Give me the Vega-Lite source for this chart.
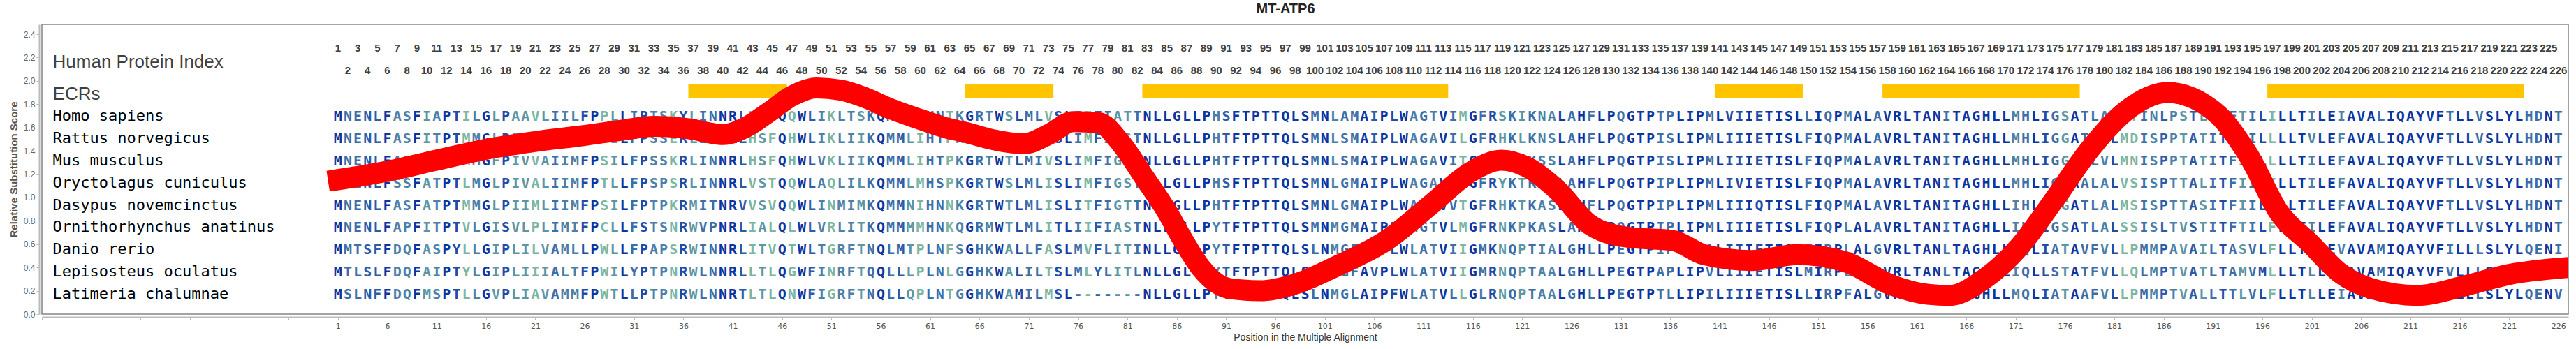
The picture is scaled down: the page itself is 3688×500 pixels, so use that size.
{
"$schema": "https://vega.github.io/schema/vega-lite/v6.json",
"width": 3617, "height": 415,
"autosize": {"type": "none"},
"padding": {"left": 60, "top": 35, "right": 11, "bottom": 50},
"background": "white",
"title": {"text": "MT-ATP6", "font": "Liberation Sans", "fontSize": 20, "fontWeight": "bold", "color": "#222222", "anchor": "middle", "offset": 12, "dx": -28},
"config": {"view": {"stroke": "#858585", "strokeWidth": 1.5}, "axis": {"grid": false}},
"datasets": {
"seqs": [
{"sp": "Homo sapiens", "aa": ["M","N","E","N","L","F","A","S","F","I","A","P","T","I","L","G","L","P","A","A","V","L","I","I","L","F","P","P","L","L","I","P","T","S","K","Y","L","I","N","N","R","L","I","T","T","Q","Q","W","L","I","K","L","T","S","K","Q","M","M","T","M","H","N","T","K","G","R","T","W","S","L","M","L","V","S","L","I","I","F","I","A","T","T","N","L","L","G","L","L","P","H","S","F","T","P","T","T","Q","L","S","M","N","L","A","M","A","I","P","L","W","A","G","T","V","I","M","G","F","R","S","K","I","K","N","A","L","A","H","F","L","P","Q","G","T","P","T","P","L","I","P","M","L","V","I","I","E","T","I","S","L","L","I","Q","P","M","A","L","A","V","R","L","T","A","N","I","T","A","G","H","L","L","M","H","L","I","G","S","A","T","L","A","M","S","T","I","N","L","P","S","T","L","I","I","F","T","I","L","I","L","L","T","I","L","E","I","A","V","A","L","I","Q","A","Y","V","F","T","L","L","V","S","L","Y","L","H","D","N","T"]},
{"sp": "Rattus norvegicus", "aa": ["M","N","E","N","L","F","A","S","F","I","T","P","T","M","M","G","L","P","I","V","V","T","I","I","M","F","P","S","I","L","F","P","S","S","E","R","L","I","S","N","R","L","H","S","F","Q","H","W","L","I","K","L","I","I","K","Q","M","M","L","I","H","T","P","K","G","R","T","W","A","L","M","I","V","S","L","I","M","F","I","G","S","T","N","L","L","G","L","L","P","H","T","F","T","P","T","T","Q","L","S","M","N","L","S","M","A","I","P","L","W","A","G","A","V","I","L","G","F","R","H","K","L","K","N","S","L","A","H","F","L","P","Q","G","T","P","I","S","L","I","P","M","L","I","I","I","E","T","I","S","L","F","I","Q","P","M","A","L","A","V","R","L","T","A","N","I","T","A","G","H","L","L","M","H","L","I","G","G","A","T","L","V","L","M","D","I","S","P","P","T","A","T","I","T","F","I","I","L","L","L","L","T","V","L","E","F","A","V","A","L","I","Q","A","Y","V","F","T","L","L","V","S","L","Y","L","H","D","N","T"]},
{"sp": "Mus musculus", "aa": ["M","N","E","N","L","F","A","S","F","I","T","P","T","M","M","G","F","P","I","V","V","A","I","I","M","F","P","S","I","L","F","P","S","S","K","R","L","I","N","N","R","L","H","S","F","Q","H","W","L","V","K","L","I","I","K","Q","M","M","L","I","H","T","P","K","G","R","T","W","T","L","M","I","V","S","L","I","M","F","I","G","S","T","N","L","L","G","L","L","P","H","T","F","T","P","T","T","Q","L","S","M","N","L","S","M","A","I","P","L","W","A","G","A","V","I","T","G","F","R","H","K","L","K","S","S","L","A","H","F","L","P","Q","G","T","P","I","S","L","I","P","M","L","I","I","I","E","T","I","S","L","F","I","Q","P","M","A","L","A","V","R","L","T","A","N","I","T","A","G","H","L","L","M","H","L","I","G","G","A","T","L","V","L","M","N","I","S","P","P","T","A","T","I","T","F","I","I","L","L","L","L","T","I","L","E","F","A","V","A","L","I","Q","A","Y","V","F","T","L","L","V","S","L","Y","L","H","D","N","T"]},
{"sp": "Oryctolagus cuniculus", "aa": ["M","N","E","N","L","F","S","S","F","A","T","P","T","L","M","G","L","P","I","V","A","L","I","I","M","F","P","T","L","L","F","P","S","P","S","R","L","I","N","N","R","L","V","S","T","Q","Q","W","L","A","Q","L","I","L","K","Q","M","M","L","M","H","S","P","K","G","R","T","W","S","L","M","L","I","S","L","I","M","F","I","G","S","T","N","L","L","G","L","L","P","H","S","F","T","P","T","T","Q","L","S","M","N","L","G","M","A","I","P","L","W","A","G","A","V","I","T","G","F","R","Y","K","T","K","A","S","L","A","H","F","L","P","Q","G","T","P","I","P","L","I","P","M","L","I","V","I","E","T","I","S","L","F","I","Q","P","M","A","L","A","V","R","L","T","A","N","I","T","A","G","H","L","L","M","H","L","I","G","G","A","A","L","A","L","V","S","I","S","P","T","T","A","L","I","T","F","I","I","L","I","L","L","T","I","L","E","F","A","V","A","L","I","Q","A","Y","V","F","T","L","L","V","S","L","Y","L","H","D","N","T"]},
{"sp": "Dasypus novemcinctus", "aa": ["M","N","E","N","L","F","A","S","F","A","T","P","T","M","M","G","L","P","I","I","M","L","I","I","M","F","P","S","I","L","F","P","T","P","K","R","M","I","T","N","R","V","V","S","V","Q","Q","W","L","I","N","M","I","M","K","Q","M","M","N","I","H","N","N","K","G","R","T","W","T","L","M","L","I","S","L","I","T","F","I","G","T","T","N","L","L","G","L","L","P","H","T","F","T","P","T","T","Q","L","S","M","N","L","G","M","A","I","P","L","W","A","G","A","V","V","T","G","F","R","H","K","T","K","A","S","L","A","H","F","L","P","Q","G","T","P","I","P","L","I","P","M","L","I","I","I","Q","T","I","S","L","F","I","Q","P","M","A","L","A","V","R","L","T","A","N","I","T","A","G","H","L","L","I","H","L","I","G","G","A","T","L","A","L","M","S","I","S","P","T","T","A","S","I","T","F","I","I","L","I","L","L","T","I","L","E","F","A","V","A","L","I","Q","A","Y","V","F","T","L","L","V","S","L","Y","L","H","D","N","T"]},
{"sp": "Ornithorhynchus anatinus", "aa": ["M","N","E","N","L","F","A","P","F","I","T","P","T","V","L","G","I","S","V","L","P","L","I","M","I","F","P","C","L","L","F","S","T","S","N","R","W","V","P","N","R","L","I","A","L","Q","L","W","L","V","R","L","I","T","K","Q","M","M","M","M","H","N","K","Q","G","R","M","W","T","L","M","L","I","T","L","I","I","F","I","A","S","T","N","L","L","G","L","L","P","Y","T","F","T","P","T","T","Q","L","S","M","N","M","G","M","A","I","P","L","W","M","G","T","V","L","M","G","F","R","N","K","P","K","A","S","L","A","H","F","L","P","Q","G","T","P","I","P","L","I","P","M","L","I","I","I","E","T","I","S","L","F","I","Q","P","L","A","L","A","V","R","L","T","A","N","I","T","A","G","H","L","L","I","H","L","I","G","S","A","T","L","A","L","S","S","I","S","L","T","V","S","T","I","T","F","T","I","L","F","L","L","T","I","L","E","F","A","V","A","L","I","Q","A","Y","V","F","T","L","L","V","S","L","Y","L","H","D","N","T"]},
{"sp": "Danio rerio", "aa": ["M","M","T","S","F","F","D","Q","F","A","S","P","Y","L","L","G","I","P","L","I","L","V","A","M","L","L","P","W","L","L","F","P","A","P","S","R","W","I","N","N","R","L","I","T","V","Q","T","W","L","T","G","R","F","T","N","Q","L","M","T","P","L","N","F","S","G","H","K","W","A","L","L","F","A","S","L","M","V","F","L","I","T","I","N","L","L","G","L","L","P","Y","T","F","T","P","T","T","Q","L","S","L","N","M","G","F","A","V","P","L","W","L","A","T","V","I","I","G","M","K","N","Q","P","T","I","A","L","G","H","L","L","P","E","G","T","P","I","P","L","I","P","A","L","I","I","I","E","T","I","S","L","F","I","R","P","L","A","L","G","V","R","L","T","A","N","L","T","A","G","H","L","L","I","Q","L","I","A","T","A","V","F","V","L","L","P","M","M","P","A","V","A","I","L","T","A","S","V","L","F","L","L","T","L","L","E","V","A","V","A","M","I","Q","A","Y","V","F","I","L","L","L","S","L","Y","L","Q","E","N","I"]},
{"sp": "Lepisosteus oculatus", "aa": ["M","T","L","S","L","F","D","Q","F","A","I","P","T","Y","L","G","I","P","L","I","I","I","A","L","T","F","P","W","I","L","Y","P","T","P","N","R","W","L","N","N","R","L","L","T","L","Q","G","W","F","I","N","R","F","T","Q","Q","L","L","L","P","L","N","L","G","G","H","K","W","A","L","I","L","T","S","L","M","L","Y","L","I","T","L","N","L","L","G","L","L","P","Y","T","F","T","P","T","T","Q","L","S","L","N","M","G","F","A","V","P","L","W","L","A","T","V","I","I","G","M","R","N","Q","P","T","A","A","L","G","H","L","L","P","E","G","T","P","A","P","L","I","P","V","L","I","I","I","E","T","I","S","L","M","I","R","P","L","A","L","G","V","R","L","T","A","N","L","T","A","G","H","L","L","I","Q","L","L","S","T","A","T","F","V","L","L","Q","L","M","P","T","V","A","T","L","T","A","M","V","M","L","L","L","T","L","L","E","V","A","V","A","M","I","Q","A","Y","V","F","V","L","L","L","S","L","Y","L","Q","E","N","V"]},
{"sp": "Latimeria chalumnae", "aa": ["M","S","L","N","F","F","D","Q","F","M","S","P","T","L","L","G","V","P","L","I","A","V","A","M","M","F","P","W","T","L","L","P","T","P","N","R","W","L","N","N","R","T","L","T","L","Q","N","W","F","I","G","R","F","T","N","Q","L","L","Q","P","L","N","T","G","G","H","K","W","A","M","I","L","M","S","L","-","-","-","-","-","-","-","N","L","L","G","L","L","P","Y","T","F","T","P","T","T","Q","L","S","L","N","M","G","L","A","I","P","F","W","L","A","T","V","L","L","G","L","R","N","Q","P","T","A","A","L","G","H","L","L","P","E","G","T","P","T","L","L","I","P","I","L","I","I","I","E","T","I","S","L","L","I","R","P","F","A","L","G","V","R","L","T","A","N","L","T","A","G","H","L","L","M","Q","L","I","A","T","A","A","F","V","L","L","P","M","M","P","T","V","A","L","L","T","T","L","V","L","F","L","L","T","L","L","E","I","A","V","A","M","I","Q","A","Y","V","F","V","L","L","L","S","L","Y","L","Q","E","N","V"]}
],
"ecrs": [{"start": 37, "end": 46}, {"start": 65, "end": 73}, {"start": 83, "end": 113}, {"start": 141, "end": 149}, {"start": 158, "end": 177}, {"start": 197, "end": 222}],
"curve": [
{"pos": 0, "score": 1.14}, {"pos": 3, "score": 1.18}, {"pos": 6.3, "score": 1.23}, {"pos": 11, "score": 1.32}, {"pos": 16.4, "score": 1.42}, {"pos": 21, "score": 1.48}, {"pos": 25.8, "score": 1.53}, {"pos": 30, "score": 1.58}, {"pos": 33, "score": 1.61}, {"pos": 36.5, "score": 1.59}, {"pos": 40, "score": 1.54}, {"pos": 42.5, "score": 1.61}, {"pos": 44.8, "score": 1.74}, {"pos": 47, "score": 1.87}, {"pos": 49.5, "score": 1.94}, {"pos": 52, "score": 1.92}, {"pos": 54.3, "score": 1.86}, {"pos": 57, "score": 1.76}, {"pos": 60, "score": 1.67}, {"pos": 62.5, "score": 1.6}, {"pos": 64.5, "score": 1.56}, {"pos": 67.7, "score": 1.49}, {"pos": 70.5, "score": 1.46}, {"pos": 73, "score": 1.54}, {"pos": 75.5, "score": 1.65}, {"pos": 78.1, "score": 1.64}, {"pos": 80.3, "score": 1.47}, {"pos": 82.8, "score": 1.16}, {"pos": 85, "score": 0.88}, {"pos": 86.6, "score": 0.64}, {"pos": 88.5, "score": 0.39}, {"pos": 91.3, "score": 0.22}, {"pos": 94.5, "score": 0.2}, {"pos": 97.7, "score": 0.25}, {"pos": 102.4, "score": 0.42}, {"pos": 107.2, "score": 0.63}, {"pos": 111.9, "score": 0.95}, {"pos": 115.8, "score": 1.22}, {"pos": 118.9, "score": 1.32}, {"pos": 121.5, "score": 1.26}, {"pos": 124.6, "score": 1.06}, {"pos": 127.8, "score": 0.77}, {"pos": 131.6, "score": 0.66}, {"pos": 136.3, "score": 0.63}, {"pos": 139.4, "score": 0.51}, {"pos": 144.2, "score": 0.46}, {"pos": 148.9, "score": 0.51}, {"pos": 153.7, "score": 0.45}, {"pos": 158.4, "score": 0.25}, {"pos": 162.1, "score": 0.17}, {"pos": 164.3, "score": 0.16}, {"pos": 167.8, "score": 0.3}, {"pos": 171.3, "score": 0.57}, {"pos": 174.9, "score": 0.98}, {"pos": 178.4, "score": 1.4}, {"pos": 182, "score": 1.73}, {"pos": 186.4, "score": 1.9}, {"pos": 191.5, "score": 1.71}, {"pos": 194.6, "score": 1.36}, {"pos": 197.7, "score": 0.87}, {"pos": 200.8, "score": 0.61}, {"pos": 203.9, "score": 0.35}, {"pos": 207, "score": 0.22}, {"pos": 211.7, "score": 0.16}, {"pos": 216.4, "score": 0.24}, {"pos": 221, "score": 0.34}, {"pos": 227, "score": 0.4}
]
},
"layer": [
{
"layer": [
{"data": {"name": "ecrs"}, "mark": {"type": "rect", "color": "#ffc400", "xOffset": -7, "x2Offset": 7},
 "encoding": {
  "x": {"field": "start", "type": "quantitative", "scale": {"domain": [-29, 227], "nice": false, "zero": false}},
  "x2": {"field": "end"},
  "y": {"datum": 1.975, "type": "quantitative", "scale": {"domain": [0, 2.484], "nice": false, "zero": true}, "axis": null},
  "y2": {"datum": 1.849}}},
{"data": {"values": [{"t": "Human Protein Index"}]}, "mark": {"type": "text", "align": "left", "baseline": "alphabetic", "font": "Liberation Sans", "fontSize": 26, "color": "#3f3f3f"},
 "encoding": {"x": {"datum": -27.9, "type": "quantitative"}, "y": {"datum": 2.113, "type": "quantitative", "axis": null}, "text": {"field": "t"}}},
{"data": {"values": [{"t": "ECRs"}]}, "mark": {"type": "text", "align": "left", "baseline": "alphabetic", "font": "Liberation Sans", "fontSize": 26, "color": "#3f3f3f"},
 "encoding": {"x": {"datum": -27.9, "type": "quantitative"}, "y": {"datum": 1.837, "type": "quantitative", "axis": null}, "text": {"field": "t"}}},
{"data": {"name": "seqs"},
 "transform": [{"filter": "datum.sp == 'Homo sapiens'"}, {"flatten": ["aa"]}, {"window": [{"op": "row_number", "as": "p"}], "groupby": ["sp"]}, {"filter": "datum.p % 2 == 1"}],
 "mark": {"type": "text", "align": "center", "baseline": "alphabetic", "font": "Liberation Sans", "fontSize": 15, "fontWeight": "bold", "color": "#404040"},
 "encoding": {"x": {"field": "p", "type": "quantitative"}, "y": {"datum": 2.25, "type": "quantitative", "axis": null}, "text": {"field": "p", "type": "quantitative"}}},
{"data": {"name": "seqs"},
 "transform": [{"filter": "datum.sp == 'Homo sapiens'"}, {"flatten": ["aa"]}, {"window": [{"op": "row_number", "as": "p"}], "groupby": ["sp"]}, {"filter": "datum.p % 2 == 0"}],
 "mark": {"type": "text", "align": "center", "baseline": "alphabetic", "font": "Liberation Sans", "fontSize": 15, "fontWeight": "bold", "color": "#404040"},
 "encoding": {"x": {"field": "p", "type": "quantitative"}, "y": {"datum": 2.059, "type": "quantitative", "axis": null}, "text": {"field": "p", "type": "quantitative"}}}
]
},
{
"data": {"name": "seqs"},
"layer": [
{"transform": [{"flatten": ["aa"]}, {"window": [{"op": "row_number", "as": "p"}], "groupby": ["sp"]}, {"joinaggregate": [{"op": "count", "as": "n"}], "groupby": ["p", "aa"]}, {"joinaggregate": [{"op": "max", "field": "n", "as": "m"}], "groupby": ["p"]}],
 "mark": {"type": "text", "align": "center", "baseline": "alphabetic", "font": "DejaVu Sans Mono", "fontSize": 20, "fontWeight": "bold"},
 "encoding": {
  "x": {"field": "p", "type": "quantitative"},
  "y": {"field": "sp", "type": "nominal", "scale": {"type": "point", "domain": ["Homo sapiens", "Rattus norvegicus", "Mus musculus", "Oryctolagus cuniculus", "Dasypus novemcinctus", "Ornithorhynchus anatinus", "Danio rerio", "Lepisosteus oculatus", "Latimeria chalumnae"], "range": [138, 393], "padding": 0}, "axis": null},
  "color": {"field": "m", "type": "quantitative", "scale": {"type": "linear", "domain": [2, 3, 4, 5, 6, 7, 8, 9], "range": ["#8fc6a0", "#7cb6a2", "#5c96a5", "#4c80a8", "#3d6ea8", "#2c5ba8", "#1f4ca6", "#0b36a1"]}, "legend": null},
  "text": {"field": "aa"}}},
{"mark": {"type": "text", "align": "left", "baseline": "alphabetic", "font": "DejaVu Sans Mono", "fontSize": 22, "color": "#000000"},
 "encoding": {
  "x": {"datum": -27.9, "type": "quantitative"},
  "y": {"field": "sp", "type": "nominal", "scale": {"type": "point", "domain": ["Homo sapiens", "Rattus norvegicus", "Mus musculus", "Oryctolagus cuniculus", "Dasypus novemcinctus", "Ornithorhynchus anatinus", "Danio rerio", "Lepisosteus oculatus", "Latimeria chalumnae"], "range": [138, 393], "padding": 0}, "axis": null},
  "text": {"field": "sp"}}}
]
},
{"data": {"name": "curve"},
 "mark": {"type": "line", "color": "#ff0000", "strokeWidth": 30, "interpolate": "monotone", "strokeCap": "butt", "clip": true},
 "encoding": {
  "x": {"field": "pos", "type": "quantitative", "scale": {"domain": [-29, 227], "nice": false, "zero": false},
   "axis": {"values": [-29,-24,-19,-14,-9,-4,1,6,11,16,21,26,31,36,41,46,51,56,61,66,71,76,81,86,91,96,101,106,111,116,121,126,131,136,141,146,151,156,161,166,171,176,181,186,191,196,201,206,211,216,221,226],
    "labelExpr": "datum.value >= 1 ? datum.label : ''", "title": "Position in the Multiple Alignment", "titleFont": "Liberation Sans", "titleFontSize": 14, "titleFontWeight": "normal", "titleColor": "#333333", "titlePadding": 4,
    "labelFont": "DejaVu Sans", "labelFontSize": 11, "labelColor": "#555555", "labelPadding": 3, "labelFlush": false, "labelOverlap": false,
    "tickColor": "#bbbbbb", "tickSize": 4, "domainColor": "#bbbbbb", "domainWidth": 2, "offset": 4, "grid": false}},
  "y": {"field": "score", "type": "quantitative", "scale": {"domain": [0, 2.484], "nice": false, "zero": true},
   "axis": {"values": [0, 0.2, 0.4, 0.6, 0.8, 1.0, 1.2, 1.4, 1.6, 1.8, 2.0, 2.2, 2.4], "format": ".1f", "title": "Relative Substitution Score", "titleFont": "Liberation Sans", "titleFontSize": 15, "titleFontWeight": "bold", "titleColor": "#555555", "titlePadding": 6,
    "labelFont": "Liberation Sans", "labelFontSize": 12, "labelColor": "#666666", "labelPadding": 2, "tickColor": "#bbbbbb", "tickSize": 4, "domainColor": "#bbbbbb", "domainWidth": 2, "offset": 4, "grid": false}}}}
],
"resolve": {"scale": {"y": "independent"}}
}
